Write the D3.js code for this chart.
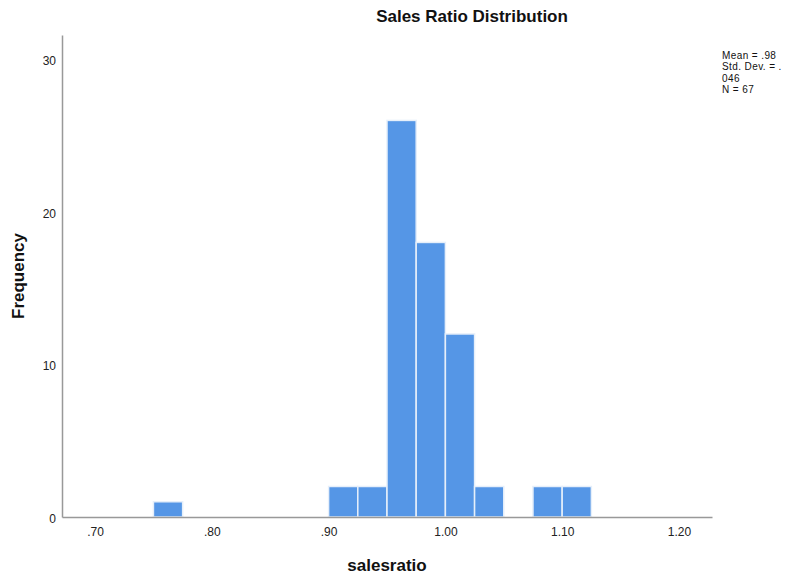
<!DOCTYPE html>
<html>
<head>
<meta charset="utf-8">
<script src="https://cdn.jsdelivr.net/npm/d3@7"></script>
<style>
  body { margin: 0; background: #fff; }
  text { font-family: "Liberation Sans", Arial, sans-serif; }
</style>
</head>
<body>
<svg id="hist" width="785" height="577"></svg>
<script>
// bin edges (width .025) and frequencies
var binStart = [0.750, 0.900, 0.925, 0.950, 0.975, 1.000, 1.025, 1.075, 1.100];
var binCount = [1, 2, 2, 26, 18, 12, 2, 2, 2];
var binWidth = 0.025;
var xTicks = [0.70, 0.80, 0.90, 1.00, 1.10, 1.20];
var yTicks = [0, 10, 20, 30];
var statsLines = ["Mean = .98", "Std. Dev. = .", "046", "N = 67"];

var svg = d3.select("#hist"),
    plotLeft = 62, plotRight = 712, plotTop = 35, plotBottom = 517;

var x = d3.scaleLinear().domain([0.6717, 1.2283]).range([plotLeft, plotRight]);
var y = d3.scaleLinear().domain([0, 31.6]).range([plotBottom, plotTop]);

var bars = binStart.map(function (d, i) {
    return { x0: d, x1: d + binWidth, n: binCount[i] };
});

svg.append("g").selectAll("rect").data(bars).enter().append("rect")
    .attr("x", function (d) { return x(d.x0); })
    .attr("width", function (d) { return x(d.x1) - x(d.x0); })
    .attr("y", function (d) { return y(d.n); })
    .attr("height", function (d) { return y(0) - y(d.n); })
    .attr("fill", "#5596e6")
    .attr("stroke", "#e6effa")
    .attr("stroke-width", 1.5);

var fmtX = function (d) {
    var s = d3.format(".2f")(d);
    return s.indexOf("0.") === 0 ? s.slice(1) : s;
};

var xAxis = svg.append("g").attr("transform", "translate(0," + plotBottom + ")")
    .call(d3.axisBottom(x).tickValues(xTicks).tickFormat(fmtX).tickSize(0).tickPadding(10));
var yAxis = svg.append("g").attr("transform", "translate(" + plotLeft + ",0)")
    .call(d3.axisLeft(y).tickValues(yTicks).tickSize(0).tickPadding(6));

[xAxis, yAxis].forEach(function (a) {
    a.select(".domain").attr("stroke", "#999").attr("stroke-width", 1.5);
    a.selectAll("text").attr("font-size", 12).attr("fill", "#222")
        .style("font-family", "'Liberation Sans', Arial, sans-serif");
});
yAxis.selectAll("text").attr("dy", "0.45em");

svg.append("text").attr("x", 472).attr("y", 22).attr("text-anchor", "middle")
    .attr("font-size", 17).attr("font-weight", "bold").attr("fill", "#111")
    .text("Sales Ratio Distribution");

svg.append("text").attr("x", 387).attr("y", 571).attr("text-anchor", "middle")
    .attr("font-size", 17).attr("font-weight", "bold").attr("fill", "#111")
    .text("salesratio");

svg.append("text").attr("transform", "translate(24,276) rotate(-90)")
    .attr("text-anchor", "middle")
    .attr("font-size", 17).attr("font-weight", "bold").attr("fill", "#111")
    .text("Frequency");

svg.append("g").selectAll("text").data(statsLines).enter().append("text")
    .attr("x", 722)
    .attr("y", function (d, i) { return 59 + i * 11.3; })
    .attr("font-size", 10).attr("fill", "#111")
    .style("letter-spacing", "0.4px")
    .text(function (d) { return d; });
</script>
</body>
</html>
